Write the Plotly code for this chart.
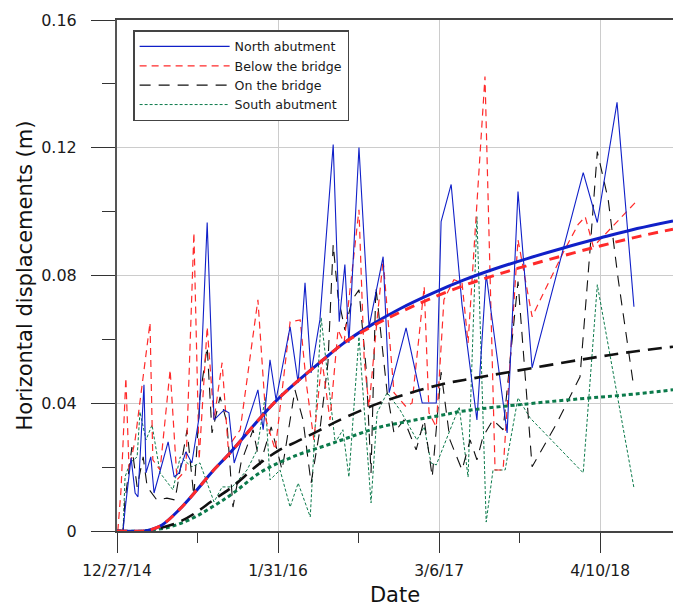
import pandas as pd
import plotly.graph_objects as go

START = pd.Timestamp("2014-12-27")

# ---- raw measurements (days since 12/27/14, displacement in m) ----
north_day = [15, 20, 35, 45, 52, 67, 72, 84, 92, 127, 142, 154, 171, 186, 204, 224, 241, 266, 278, 291,
             306, 350, 363, 380, 395, 430, 450, 467, 482, 504, 537, 552, 566, 576, 601, 626, 661, 676,
             718, 758, 793, 805, 830, 857, 894, 917, 969, 996, 1031, 1158, 1193, 1242, 1284]
north_val = [0.0, 0.0066, 0.0229, 0.0119, 0.0107, 0.0458, 0.0182, 0.0232, 0.0119, 0.0279, 0.0169, 0.0182,
             0.0248, 0.0213, 0.0357, 0.0966, 0.0348, 0.0379, 0.0370, 0.0213, 0.0270, 0.0442, 0.0317, 0.0536,
             0.0411, 0.0639, 0.0464, 0.0777, 0.0495, 0.0661, 0.1210, 0.0655, 0.0834, 0.0589, 0.1201, 0.0639,
             0.0859, 0.0433, 0.0636, 0.0401, 0.0401, 0.0969, 0.1085, 0.0708, 0.0348, 0.0803, 0.0307, 0.1063,
             0.0511, 0.1122, 0.0966, 0.1342, 0.0702]

below_day = [2, 10, 22, 30, 45, 82, 89, 107, 132, 149, 171, 191, 204, 224, 241, 261, 276, 306, 350, 370,
             393, 430, 455, 470, 489, 509, 529, 549, 564, 601, 614, 626, 646, 661, 688, 718, 733, 763, 775,
             793, 812, 837, 857, 872, 914, 939, 959, 996, 1031, 1108, 1145, 1163, 1183, 1230, 1287]
below_val = [0.0, 0.0129, 0.0480, 0.0191, 0.0285, 0.0652, 0.0223, 0.0191, 0.0505, 0.0160, 0.0191, 0.0934,
             0.0223, 0.0639, 0.0348, 0.0527, 0.0263, 0.0317, 0.0724, 0.0348, 0.0254, 0.0655, 0.0661, 0.0464,
             0.0285, 0.0536, 0.0348, 0.0630, 0.0589, 0.1006, 0.0536, 0.0389, 0.0661, 0.0850, 0.0433, 0.0389,
             0.0401, 0.0765, 0.0370, 0.0326, 0.0724, 0.0787, 0.0777, 0.0589, 0.1423, 0.0191, 0.0191, 0.0912,
             0.0671, 0.0871, 0.0959, 0.0984, 0.0890, 0.0953, 0.1028]

onbridge_day = [15, 20, 37, 50, 65, 75, 99, 124, 144, 174, 191, 206, 224, 236, 256, 273, 288, 308, 338, 355,
                383, 410, 442, 462, 482, 504, 524, 537, 549, 566, 584, 601, 619, 631, 643, 671, 688, 713, 743,
                763, 783, 805, 827, 857, 877, 894, 909, 934, 959, 996, 1014, 1031, 1093, 1150, 1175, 1193,
                1220, 1245, 1282]
onbridge_val = [0.0, 0.0097, 0.0263, 0.0138, 0.0232, 0.0138, 0.0097, 0.0103, 0.0097, 0.0317, 0.0107, 0.0420,
                0.0577, 0.0307, 0.0420, 0.0339, 0.0075, 0.0213, 0.0317, 0.0207, 0.0326, 0.0191, 0.0442, 0.0348,
                0.0150, 0.0317, 0.0527, 0.0897, 0.0734, 0.0630, 0.0724, 0.0755, 0.0505, 0.0182, 0.0765, 0.0433,
                0.0307, 0.0348, 0.0254, 0.0348, 0.0169, 0.0498, 0.0285, 0.0191, 0.0285, 0.0223, 0.0295, 0.0348,
                0.0317, 0.0781, 0.0483, 0.0201, 0.0339, 0.0483, 0.0881, 0.1188, 0.1038, 0.0787, 0.0464]

south_day = [15, 20, 32, 50, 57, 72, 87, 107, 139, 157, 186, 206, 224, 241, 261, 286, 323, 348, 368, 380,
             405, 430, 450, 480, 507, 542, 561, 576, 601, 631, 646, 671, 703, 745, 763, 780, 793, 850, 872,
             894, 917, 934, 964, 996, 1026, 1145, 1158, 1193, 1284]
south_val = [0.0, 0.0169, 0.0213, 0.0232, 0.0373, 0.0285, 0.0332, 0.0182, 0.0129, 0.0232, 0.0201, 0.0213,
             0.0150, 0.0091, 0.0138, 0.0138, 0.0191, 0.0254, 0.0420, 0.0160, 0.0191, 0.0075, 0.0150, 0.0044,
             0.0668, 0.0276, 0.0317, 0.0169, 0.0608, 0.0088, 0.0370, 0.0433, 0.0379, 0.0285, 0.0326, 0.0213,
             0.0207, 0.0389, 0.0169, 0.0984, 0.0028, 0.0191, 0.0191, 0.0417, 0.0354, 0.0201, 0.0182, 0.0771,
             0.0135]

# ---- fitted trend curves ----
north_fit_day = [0, 70, 82, 112, 154, 194, 236, 281, 358, 398, 455, 509, 564, 634, 703, 783, 862, 939,
                 1019, 1111, 1202, 1292, 1381]
north_fit_val = [0.0, 0.0, 0.0003, 0.0019, 0.0066, 0.0122, 0.0185, 0.0245, 0.0357, 0.0411, 0.0476, 0.0533,
                 0.0589, 0.0647, 0.0696, 0.0744, 0.0786, 0.0821, 0.0853, 0.0887, 0.0918, 0.0947, 0.0971]

below_fit_day = [0, 70, 82, 112, 154, 194, 236, 281, 358, 398, 455, 509, 564, 634, 703, 783, 862, 939,
                 1019, 1111, 1202, 1292, 1381]
below_fit_val = [0.0, 0.0, 0.0003, 0.0019, 0.0066, 0.0122, 0.0185, 0.0245, 0.0357, 0.0411, 0.0476, 0.0533,
                 0.0589, 0.0641, 0.0685, 0.0730, 0.0769, 0.0801, 0.0831, 0.0863, 0.0893, 0.0921, 0.0945]

onbridge_fit_day = [0, 70, 82, 119, 154, 194, 236, 286, 350, 400, 450, 499, 554, 646, 730, 812, 862, 976,
                    1150, 1262, 1381]
onbridge_fit_val = [0.0, 0.0, 0.0003, 0.0013, 0.0028, 0.0056, 0.0094, 0.0138, 0.0207, 0.0251, 0.0282, 0.0313,
                    0.0348, 0.0398, 0.0433, 0.0461, 0.0473, 0.0498, 0.0536, 0.0558, 0.0577]

south_fit_day = [0, 70, 82, 119, 154, 194, 236, 286, 358, 442, 524, 574, 646, 730, 812, 862, 1019, 1150,
                 1262, 1381]
south_fit_val = [0.0, 0.0, 0.0003, 0.0009, 0.0022, 0.0044, 0.0075, 0.0116, 0.0185, 0.0235, 0.0270, 0.0292,
                 0.0323, 0.0345, 0.0364, 0.0376, 0.0398, 0.0414, 0.0426, 0.0442]

# ---- axes ----
x_tick_day = [0, 400, 800, 1200]
x_tick_text = ["12/27/14", "1/31/16", "3/6/17", "4/10/18"]
x_minor_day = [200, 600, 1000]
x_end_day = 1381
y_ticks = [0, 0.04, 0.08, 0.12, 0.16]
y_tick_text = ["0", "0.04", "0.08", "0.12", "0.16"]
y_minor = [0.02, 0.06, 0.10, 0.14]


def to_dates(days):
    return [START + pd.Timedelta(days=d) for d in days]


BLUE = "#1020c8"
RED = "#ff2a2a"
BLACK = "#111111"
GREEN = "#0b7a4b"
FONT = "DejaVu Sans"

fig = go.Figure()

# raw series (thin)
fig.add_trace(go.Scatter(x=to_dates(south_day), y=south_val, mode="lines", name="South abutment",
                         line=dict(color=GREEN, width=1, dash="3px,2px"), legendrank=4))
fig.add_trace(go.Scatter(x=to_dates(onbridge_day), y=onbridge_val, mode="lines", name="On the bridge",
                         line=dict(color=BLACK, width=1.1, dash="11px,8px"), legendrank=3))
fig.add_trace(go.Scatter(x=to_dates(below_day), y=below_val, mode="lines", name="Below the bridge",
                         line=dict(color=RED, width=1.2, dash="7px,5px"), legendrank=2))
fig.add_trace(go.Scatter(x=to_dates(north_day), y=north_val, mode="lines", name="North abutment",
                         line=dict(color=BLUE, width=1.1), legendrank=1))

# fitted curves (thick)
fig.add_trace(go.Scatter(x=to_dates(south_fit_day), y=south_fit_val, mode="lines", showlegend=False,
                         line=dict(color=GREEN, width=3, dash="4px,3px", shape="spline")))
fig.add_trace(go.Scatter(x=to_dates(onbridge_fit_day), y=onbridge_fit_val, mode="lines", showlegend=False,
                         line=dict(color=BLACK, width=2.6, dash="14px,8px", shape="spline")))
fig.add_trace(go.Scatter(x=to_dates(north_fit_day), y=north_fit_val, mode="lines", showlegend=False,
                         line=dict(color=BLUE, width=3, shape="spline")))
fig.add_trace(go.Scatter(x=to_dates(below_fit_day), y=below_fit_val, mode="lines", showlegend=False,
                         line=dict(color=RED, width=3, dash="10px,7px", shape="spline")))

fig.update_layout(
    width=673, height=607,
    margin=dict(l=117, r=0, t=20, b=76, autoexpand=False),
    paper_bgcolor="white", plot_bgcolor="white",
    font=dict(family=FONT, color="#1a1a1a"),
    showlegend=True,
    legend=dict(x=0.029, y=0.98, xanchor="left", yanchor="top",
                bgcolor="white", bordercolor="#444", borderwidth=1.5,
                font=dict(family=FONT, size=12.6, color="#1a1a1a"),
                itemwidth=90, traceorder="normal"),
)

fig.update_xaxes(
    type="date", automargin=False,
    range=[START, START + pd.Timedelta(days=x_end_day)],
    tickmode="array", tickvals=to_dates(x_tick_day), ticktext=x_tick_text,
    ticks="outside", ticklen=20, tickwidth=1.3, tickcolor="#333",
    tickfont=dict(family=FONT, size=15.5, color="#1a1a1a"),
    ticklabelstandoff=5,
    showgrid=True, gridcolor="#cccccc", gridwidth=1,
    showline=True, linecolor="#444", linewidth=1.5, mirror=True,
    zeroline=False,
    minor=dict(tickmode="array", tickvals=to_dates(x_minor_day), ticks="outside", ticklen=10,
               tickwidth=1.3, tickcolor="#333", showgrid=False),
    title=dict(text="Date", font=dict(family=FONT, size=21, color="#111"), standoff=10),
)

fig.update_yaxes(
    automargin=False,
    range=[0, 0.16],
    tickmode="array", tickvals=y_ticks, ticktext=y_tick_text,
    ticks="outside", ticklen=24, tickwidth=1.3, tickcolor="#333",
    tickfont=dict(family=FONT, size=16, color="#1a1a1a"),
    ticklabelstandoff=11,
    showgrid=True, gridcolor="#cccccc", gridwidth=1,
    showline=True, linecolor="#555", linewidth=2,
    zeroline=False,
    minor=dict(tickmode="array", tickvals=y_minor, ticks="outside", ticklen=13,
               tickwidth=1.3, tickcolor="#333", showgrid=False),
    title=dict(text="Horizontal displacements (m)", font=dict(family=FONT, size=21, color="#111"),
               standoff=3),
)

fig.write_html(
    "out.html",
    config={"displayModeBar": False},
    post_script=("document.documentElement.style.margin='0';document.body.style.margin='0';"
                 "document.documentElement.style.overflow='hidden';document.body.style.overflow='hidden';"),
)
